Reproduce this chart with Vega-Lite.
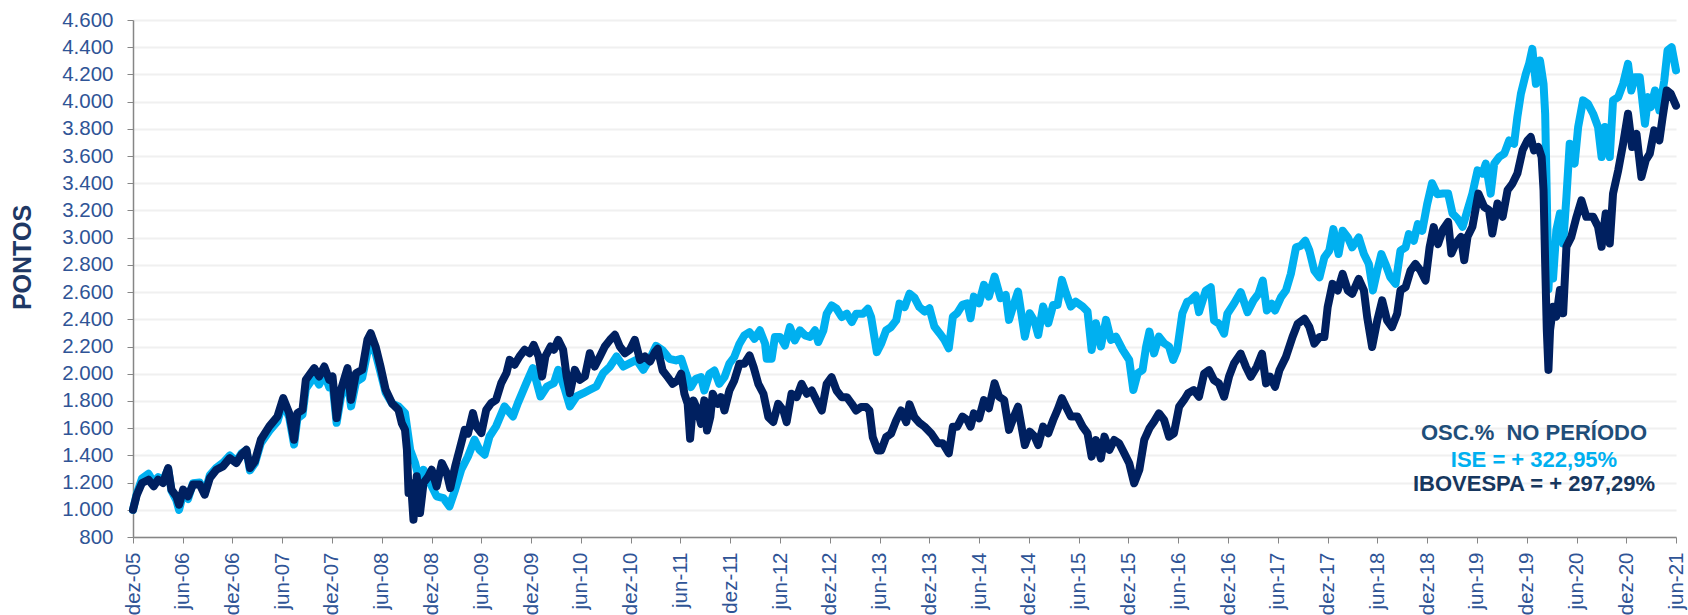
{
  "$schema": "https://vega.github.io/schema/vega-lite/v6.json",
  "width": 1543,
  "height": 517,
  "autosize": {"type": "none"},
  "padding": {"left": 133, "top": 20, "right": 12, "bottom": 78},
  "background": "#ffffff",
  "datasets": {
    "ise": [
      {"d": "2005-12-01", "v": 1000}, {"d": "2005-12-15", "v": 1120}, {"d": "2006-01-03", "v": 1230}, {"d": "2006-01-27", "v": 1265},
      {"d": "2006-02-15", "v": 1200}, {"d": "2006-03-03", "v": 1240}, {"d": "2006-03-21", "v": 1215}, {"d": "2006-04-09", "v": 1300},
      {"d": "2006-04-21", "v": 1140}, {"d": "2006-05-09", "v": 1070}, {"d": "2006-05-19", "v": 1000}, {"d": "2006-06-03", "v": 1120},
      {"d": "2006-06-21", "v": 1080}, {"d": "2006-07-09", "v": 1195}, {"d": "2006-08-03", "v": 1200}, {"d": "2006-08-21", "v": 1120},
      {"d": "2006-09-09", "v": 1255}, {"d": "2006-10-03", "v": 1310}, {"d": "2006-10-27", "v": 1345}, {"d": "2006-11-21", "v": 1400},
      {"d": "2006-12-15", "v": 1355}, {"d": "2007-01-03", "v": 1415}, {"d": "2007-01-21", "v": 1440}, {"d": "2007-02-03", "v": 1290},
      {"d": "2007-02-21", "v": 1340}, {"d": "2007-03-15", "v": 1490}, {"d": "2007-04-15", "v": 1580}, {"d": "2007-05-15", "v": 1650},
      {"d": "2007-06-05", "v": 1790}, {"d": "2007-06-27", "v": 1680}, {"d": "2007-07-15", "v": 1480}, {"d": "2007-07-27", "v": 1670},
      {"d": "2007-08-15", "v": 1700}, {"d": "2007-08-27", "v": 1890}, {"d": "2007-09-27", "v": 1980}, {"d": "2007-10-15", "v": 1920},
      {"d": "2007-11-03", "v": 2000}, {"d": "2007-11-21", "v": 1900}, {"d": "2007-12-03", "v": 1930}, {"d": "2007-12-18", "v": 1640},
      {"d": "2008-01-03", "v": 1830}, {"d": "2008-01-27", "v": 1960}, {"d": "2008-02-09", "v": 1760}, {"d": "2008-02-27", "v": 1940},
      {"d": "2008-03-21", "v": 1970}, {"d": "2008-04-09", "v": 2160}, {"d": "2008-04-21", "v": 2220}, {"d": "2008-05-09", "v": 2150},
      {"d": "2008-05-27", "v": 2010}, {"d": "2008-06-15", "v": 1860}, {"d": "2008-07-09", "v": 1780}, {"d": "2008-08-01", "v": 1760},
      {"d": "2008-08-25", "v": 1711}, {"d": "2008-09-13", "v": 1441}, {"d": "2008-10-01", "v": 1343}, {"d": "2008-10-19", "v": 1197},
      {"d": "2008-11-01", "v": 1294}, {"d": "2008-11-25", "v": 1197}, {"d": "2008-12-19", "v": 1099}, {"d": "2009-01-13", "v": 1086},
      {"d": "2009-02-04", "v": 1025}, {"d": "2009-02-25", "v": 1148}, {"d": "2009-03-19", "v": 1294}, {"d": "2009-04-13", "v": 1392},
      {"d": "2009-05-07", "v": 1515}, {"d": "2009-05-25", "v": 1441}, {"d": "2009-06-13", "v": 1405}, {"d": "2009-07-01", "v": 1539},
      {"d": "2009-07-25", "v": 1613}, {"d": "2009-08-25", "v": 1760}, {"d": "2009-09-25", "v": 1686}, {"d": "2009-10-13", "v": 1784},
      {"d": "2009-11-13", "v": 1931}, {"d": "2009-12-07", "v": 2041}, {"d": "2010-01-04", "v": 1833}, {"d": "2010-01-28", "v": 1906},
      {"d": "2010-02-22", "v": 1931}, {"d": "2010-03-10", "v": 2029}, {"d": "2010-04-04", "v": 1882}, {"d": "2010-04-22", "v": 1760},
      {"d": "2010-05-16", "v": 1833}, {"d": "2010-06-10", "v": 1857}, {"d": "2010-07-04", "v": 1882}, {"d": "2010-07-28", "v": 1906},
      {"d": "2010-08-22", "v": 2004}, {"d": "2010-09-16", "v": 2053}, {"d": "2010-10-10", "v": 2127}, {"d": "2010-11-04", "v": 2053},
      {"d": "2010-11-28", "v": 2078}, {"d": "2010-12-22", "v": 2102}, {"d": "2011-01-16", "v": 2029}, {"d": "2011-02-10", "v": 2110},
      {"d": "2011-03-04", "v": 2205}, {"d": "2011-03-28", "v": 2172}, {"d": "2011-04-22", "v": 2110}, {"d": "2011-05-16", "v": 2098},
      {"d": "2011-06-04", "v": 2110}, {"d": "2011-06-22", "v": 2000}, {"d": "2011-07-10", "v": 1902}, {"d": "2011-07-28", "v": 1963},
      {"d": "2011-08-16", "v": 1975}, {"d": "2011-08-28", "v": 1877}, {"d": "2011-09-16", "v": 2000}, {"d": "2011-10-04", "v": 2024},
      {"d": "2011-10-22", "v": 1926}, {"d": "2011-11-10", "v": 1975}, {"d": "2011-11-28", "v": 2074}, {"d": "2011-12-16", "v": 2123},
      {"d": "2012-01-04", "v": 2221}, {"d": "2012-01-22", "v": 2282}, {"d": "2012-02-10", "v": 2306}, {"d": "2012-02-28", "v": 2257},
      {"d": "2012-03-19", "v": 2319}, {"d": "2012-04-07", "v": 2221}, {"d": "2012-04-13", "v": 2110}, {"d": "2012-05-01", "v": 2110},
      {"d": "2012-05-13", "v": 2270}, {"d": "2012-06-01", "v": 2270}, {"d": "2012-06-19", "v": 2208}, {"d": "2012-07-07", "v": 2343},
      {"d": "2012-07-25", "v": 2245}, {"d": "2012-08-13", "v": 2319}, {"d": "2012-09-01", "v": 2282}, {"d": "2012-09-19", "v": 2270},
      {"d": "2012-10-07", "v": 2319}, {"d": "2012-10-19", "v": 2233}, {"d": "2012-11-07", "v": 2319}, {"d": "2012-11-19", "v": 2441},
      {"d": "2012-12-07", "v": 2502}, {"d": "2012-12-25", "v": 2478}, {"d": "2013-01-13", "v": 2417}, {"d": "2013-02-01", "v": 2441},
      {"d": "2013-02-19", "v": 2380}, {"d": "2013-03-07", "v": 2441}, {"d": "2013-04-01", "v": 2441}, {"d": "2013-04-19", "v": 2478},
      {"d": "2013-05-01", "v": 2417}, {"d": "2013-05-13", "v": 2270}, {"d": "2013-05-22", "v": 2159}, {"d": "2013-06-07", "v": 2221},
      {"d": "2013-06-25", "v": 2319}, {"d": "2013-07-13", "v": 2343}, {"d": "2013-08-01", "v": 2392}, {"d": "2013-08-13", "v": 2515},
      {"d": "2013-09-01", "v": 2490}, {"d": "2013-09-19", "v": 2588}, {"d": "2013-10-07", "v": 2560}, {"d": "2013-10-25", "v": 2490},
      {"d": "2013-11-13", "v": 2457}, {"d": "2013-12-01", "v": 2481}, {"d": "2013-12-19", "v": 2347}, {"d": "2014-01-07", "v": 2298},
      {"d": "2014-01-25", "v": 2249}, {"d": "2014-02-10", "v": 2187}, {"d": "2014-02-25", "v": 2420}, {"d": "2014-03-13", "v": 2445},
      {"d": "2014-04-01", "v": 2506}, {"d": "2014-04-19", "v": 2518}, {"d": "2014-05-01", "v": 2408}, {"d": "2014-05-13", "v": 2567},
      {"d": "2014-06-01", "v": 2518}, {"d": "2014-06-19", "v": 2653}, {"d": "2014-07-07", "v": 2567}, {"d": "2014-07-28", "v": 2714},
      {"d": "2014-08-19", "v": 2555}, {"d": "2014-09-07", "v": 2579}, {"d": "2014-09-19", "v": 2396}, {"d": "2014-10-04", "v": 2494},
      {"d": "2014-10-22", "v": 2604}, {"d": "2014-11-04", "v": 2432}, {"d": "2014-11-16", "v": 2273}, {"d": "2014-12-04", "v": 2445},
      {"d": "2014-12-22", "v": 2383}, {"d": "2015-01-04", "v": 2285}, {"d": "2015-01-22", "v": 2494}, {"d": "2015-02-10", "v": 2371},
      {"d": "2015-02-28", "v": 2506}, {"d": "2015-03-16", "v": 2506}, {"d": "2015-04-01", "v": 2690}, {"d": "2015-04-16", "v": 2592},
      {"d": "2015-05-04", "v": 2494}, {"d": "2015-05-22", "v": 2530}, {"d": "2015-06-16", "v": 2494}, {"d": "2015-07-04", "v": 2457},
      {"d": "2015-07-19", "v": 2175}, {"d": "2015-08-04", "v": 2371}, {"d": "2015-08-22", "v": 2200}, {"d": "2015-09-10", "v": 2396},
      {"d": "2015-09-28", "v": 2249}, {"d": "2015-10-16", "v": 2273}, {"d": "2015-11-10", "v": 2175}, {"d": "2015-12-04", "v": 2101},
      {"d": "2015-12-19", "v": 1881}, {"d": "2016-01-04", "v": 2003}, {"d": "2016-01-22", "v": 2028}, {"d": "2016-02-04", "v": 2200},
      {"d": "2016-02-16", "v": 2310}, {"d": "2016-03-04", "v": 2150}, {"d": "2016-03-22", "v": 2273}, {"d": "2016-04-10", "v": 2224},
      {"d": "2016-04-28", "v": 2200}, {"d": "2016-05-13", "v": 2101}, {"d": "2016-05-28", "v": 2175}, {"d": "2016-06-16", "v": 2445},
      {"d": "2016-07-04", "v": 2530}, {"d": "2016-07-16", "v": 2539}, {"d": "2016-08-04", "v": 2575}, {"d": "2016-08-16", "v": 2453},
      {"d": "2016-09-10", "v": 2612}, {"d": "2016-09-28", "v": 2636}, {"d": "2016-10-10", "v": 2392}, {"d": "2016-10-28", "v": 2368},
      {"d": "2016-11-16", "v": 2295}, {"d": "2016-11-28", "v": 2441}, {"d": "2016-12-22", "v": 2514}, {"d": "2017-01-16", "v": 2600},
      {"d": "2017-02-10", "v": 2453}, {"d": "2017-03-04", "v": 2539}, {"d": "2017-03-22", "v": 2587}, {"d": "2017-04-07", "v": 2685},
      {"d": "2017-04-22", "v": 2465}, {"d": "2017-05-10", "v": 2514}, {"d": "2017-05-22", "v": 2465}, {"d": "2017-06-13", "v": 2563},
      {"d": "2017-07-01", "v": 2612}, {"d": "2017-07-19", "v": 2734}, {"d": "2017-08-07", "v": 2929}, {"d": "2017-08-25", "v": 2941},
      {"d": "2017-09-10", "v": 2978}, {"d": "2017-09-25", "v": 2905}, {"d": "2017-10-13", "v": 2758}, {"d": "2017-11-01", "v": 2709},
      {"d": "2017-11-19", "v": 2856}, {"d": "2017-12-07", "v": 2905}, {"d": "2017-12-22", "v": 3063}, {"d": "2018-01-10", "v": 2880},
      {"d": "2018-01-25", "v": 3051}, {"d": "2018-02-13", "v": 3002}, {"d": "2018-03-01", "v": 2929}, {"d": "2018-03-25", "v": 3002},
      {"d": "2018-04-13", "v": 2880}, {"d": "2018-05-01", "v": 2807}, {"d": "2018-05-16", "v": 2612}, {"d": "2018-06-01", "v": 2758},
      {"d": "2018-06-16", "v": 2880}, {"d": "2018-07-01", "v": 2807}, {"d": "2018-07-19", "v": 2709}, {"d": "2018-08-07", "v": 2661},
      {"d": "2018-08-25", "v": 2905}, {"d": "2018-09-13", "v": 2929}, {"d": "2018-09-25", "v": 3027}, {"d": "2018-10-13", "v": 2978},
      {"d": "2018-10-28", "v": 3100}, {"d": "2018-11-13", "v": 3051}, {"d": "2018-12-01", "v": 3246}, {"d": "2018-12-19", "v": 3400},
      {"d": "2019-01-07", "v": 3320}, {"d": "2019-01-28", "v": 3324}, {"d": "2019-02-16", "v": 3324}, {"d": "2019-03-04", "v": 3178},
      {"d": "2019-03-22", "v": 3141}, {"d": "2019-04-10", "v": 3080}, {"d": "2019-04-28", "v": 3202}, {"d": "2019-05-16", "v": 3324},
      {"d": "2019-06-04", "v": 3495}, {"d": "2019-06-22", "v": 3471}, {"d": "2019-07-04", "v": 3544}, {"d": "2019-07-22", "v": 3324},
      {"d": "2019-08-04", "v": 3544}, {"d": "2019-08-22", "v": 3593}, {"d": "2019-09-10", "v": 3618}, {"d": "2019-09-28", "v": 3715},
      {"d": "2019-10-16", "v": 3691}, {"d": "2019-10-28", "v": 3887}, {"d": "2019-11-10", "v": 4058}, {"d": "2019-11-28", "v": 4204},
      {"d": "2019-12-10", "v": 4278}, {"d": "2019-12-22", "v": 4388}, {"d": "2020-01-04", "v": 4131}, {"d": "2020-01-19", "v": 4302},
      {"d": "2020-02-01", "v": 4131}, {"d": "2020-02-07", "v": 3911}, {"d": "2020-02-13", "v": 3300}, {"d": "2020-02-19", "v": 2620},
      {"d": "2020-02-25", "v": 2850}, {"d": "2020-03-07", "v": 2700}, {"d": "2020-03-19", "v": 3055}, {"d": "2020-04-01", "v": 3178},
      {"d": "2020-04-13", "v": 2957}, {"d": "2020-04-25", "v": 3300}, {"d": "2020-05-07", "v": 3691}, {"d": "2020-05-25", "v": 3544},
      {"d": "2020-06-07", "v": 3813}, {"d": "2020-06-25", "v": 4009}, {"d": "2020-07-13", "v": 3984}, {"d": "2020-08-01", "v": 3911},
      {"d": "2020-08-19", "v": 3813}, {"d": "2020-09-01", "v": 3593}, {"d": "2020-09-13", "v": 3813}, {"d": "2020-10-01", "v": 3593},
      {"d": "2020-10-13", "v": 4009}, {"d": "2020-11-01", "v": 4033}, {"d": "2020-11-19", "v": 4131}, {"d": "2020-12-07", "v": 4278},
      {"d": "2020-12-19", "v": 4082}, {"d": "2021-01-01", "v": 4180}, {"d": "2021-01-19", "v": 4180}, {"d": "2021-02-07", "v": 3838},
      {"d": "2021-02-19", "v": 4033}, {"d": "2021-03-01", "v": 3960}, {"d": "2021-03-16", "v": 4082}, {"d": "2021-04-01", "v": 3935},
      {"d": "2021-04-19", "v": 4155}, {"d": "2021-05-01", "v": 4376}, {"d": "2021-05-16", "v": 4400}, {"d": "2021-06-01", "v": 4230}
    ],
    "ibov": [
      {"d": "2005-12-01", "v": 1000}, {"d": "2005-12-15", "v": 1110}, {"d": "2006-01-03", "v": 1197}, {"d": "2006-01-27", "v": 1221},
      {"d": "2006-02-15", "v": 1172}, {"d": "2006-03-03", "v": 1221}, {"d": "2006-03-21", "v": 1197}, {"d": "2006-04-09", "v": 1307},
      {"d": "2006-04-21", "v": 1148}, {"d": "2006-05-09", "v": 1099}, {"d": "2006-05-19", "v": 1037}, {"d": "2006-06-03", "v": 1148},
      {"d": "2006-06-21", "v": 1099}, {"d": "2006-07-09", "v": 1185}, {"d": "2006-08-03", "v": 1185}, {"d": "2006-08-21", "v": 1111},
      {"d": "2006-09-09", "v": 1233}, {"d": "2006-10-03", "v": 1294}, {"d": "2006-10-27", "v": 1319}, {"d": "2006-11-21", "v": 1380},
      {"d": "2006-12-15", "v": 1343}, {"d": "2007-01-03", "v": 1405}, {"d": "2007-01-21", "v": 1441}, {"d": "2007-02-03", "v": 1307},
      {"d": "2007-02-21", "v": 1356}, {"d": "2007-03-15", "v": 1515}, {"d": "2007-04-15", "v": 1613}, {"d": "2007-05-15", "v": 1686},
      {"d": "2007-06-05", "v": 1821}, {"d": "2007-06-27", "v": 1711}, {"d": "2007-07-15", "v": 1515}, {"d": "2007-07-27", "v": 1711},
      {"d": "2007-08-15", "v": 1735}, {"d": "2007-08-27", "v": 1955}, {"d": "2007-09-27", "v": 2041}, {"d": "2007-10-15", "v": 1980},
      {"d": "2007-11-03", "v": 2053}, {"d": "2007-11-21", "v": 1955}, {"d": "2007-12-03", "v": 1980}, {"d": "2007-12-18", "v": 1674},
      {"d": "2008-01-03", "v": 1882}, {"d": "2008-01-27", "v": 2041}, {"d": "2008-02-09", "v": 1808}, {"d": "2008-02-27", "v": 2004},
      {"d": "2008-03-21", "v": 2029}, {"d": "2008-04-09", "v": 2249}, {"d": "2008-04-21", "v": 2298}, {"d": "2008-05-09", "v": 2200},
      {"d": "2008-05-27", "v": 2053}, {"d": "2008-06-15", "v": 1882}, {"d": "2008-07-09", "v": 1780}, {"d": "2008-08-01", "v": 1735},
      {"d": "2008-08-13", "v": 1637}, {"d": "2008-08-25", "v": 1588}, {"d": "2008-09-01", "v": 1441}, {"d": "2008-09-07", "v": 1123},
      {"d": "2008-09-16", "v": 1197}, {"d": "2008-09-25", "v": 927}, {"d": "2008-10-07", "v": 1246}, {"d": "2008-10-19", "v": 976},
      {"d": "2008-11-01", "v": 1197}, {"d": "2008-11-19", "v": 1246}, {"d": "2008-12-01", "v": 1294}, {"d": "2008-12-19", "v": 1172},
      {"d": "2009-01-07", "v": 1343}, {"d": "2009-01-25", "v": 1270}, {"d": "2009-02-07", "v": 1160}, {"d": "2009-02-25", "v": 1319},
      {"d": "2009-03-13", "v": 1441}, {"d": "2009-04-01", "v": 1588}, {"d": "2009-04-13", "v": 1560}, {"d": "2009-05-01", "v": 1711},
      {"d": "2009-05-13", "v": 1613}, {"d": "2009-06-01", "v": 1564}, {"d": "2009-06-19", "v": 1735}, {"d": "2009-07-07", "v": 1784},
      {"d": "2009-07-25", "v": 1808}, {"d": "2009-08-13", "v": 1931}, {"d": "2009-09-01", "v": 2004}, {"d": "2009-09-13", "v": 2102},
      {"d": "2009-10-01", "v": 2066}, {"d": "2009-10-19", "v": 2127}, {"d": "2009-11-07", "v": 2176}, {"d": "2009-11-25", "v": 2151},
      {"d": "2009-12-10", "v": 2212}, {"d": "2009-12-28", "v": 2127}, {"d": "2010-01-10", "v": 1980}, {"d": "2010-01-22", "v": 2127},
      {"d": "2010-02-10", "v": 2200}, {"d": "2010-02-22", "v": 2176}, {"d": "2010-03-10", "v": 2249}, {"d": "2010-03-28", "v": 2176},
      {"d": "2010-04-10", "v": 1980}, {"d": "2010-04-22", "v": 1857}, {"d": "2010-05-10", "v": 2029}, {"d": "2010-05-28", "v": 1955},
      {"d": "2010-06-16", "v": 1980}, {"d": "2010-07-04", "v": 2151}, {"d": "2010-07-22", "v": 2053}, {"d": "2010-08-10", "v": 2127},
      {"d": "2010-08-28", "v": 2200}, {"d": "2010-09-16", "v": 2249}, {"d": "2010-10-04", "v": 2286}, {"d": "2010-10-22", "v": 2200},
      {"d": "2010-11-10", "v": 2151}, {"d": "2010-11-28", "v": 2176}, {"d": "2010-12-16", "v": 2249}, {"d": "2011-01-04", "v": 2102},
      {"d": "2011-01-22", "v": 2127}, {"d": "2011-02-10", "v": 2090}, {"d": "2011-02-28", "v": 2160}, {"d": "2011-03-10", "v": 2184},
      {"d": "2011-03-28", "v": 2024}, {"d": "2011-04-16", "v": 1975}, {"d": "2011-05-04", "v": 1926}, {"d": "2011-05-22", "v": 1951},
      {"d": "2011-06-04", "v": 2000}, {"d": "2011-06-16", "v": 1853}, {"d": "2011-06-28", "v": 1779}, {"d": "2011-07-07", "v": 1522},
      {"d": "2011-07-19", "v": 1804}, {"d": "2011-08-04", "v": 1730}, {"d": "2011-08-16", "v": 1632}, {"d": "2011-08-28", "v": 1804},
      {"d": "2011-09-07", "v": 1583}, {"d": "2011-09-19", "v": 1681}, {"d": "2011-09-28", "v": 1853}, {"d": "2011-10-16", "v": 1779},
      {"d": "2011-10-28", "v": 1828}, {"d": "2011-11-10", "v": 1730}, {"d": "2011-11-28", "v": 1877}, {"d": "2011-12-16", "v": 1951},
      {"d": "2012-01-04", "v": 2074}, {"d": "2012-01-22", "v": 2074}, {"d": "2012-02-10", "v": 2135}, {"d": "2012-02-25", "v": 2049},
      {"d": "2012-03-13", "v": 1926}, {"d": "2012-04-01", "v": 1853}, {"d": "2012-04-19", "v": 1681}, {"d": "2012-05-07", "v": 1645},
      {"d": "2012-05-25", "v": 1779}, {"d": "2012-06-13", "v": 1730}, {"d": "2012-06-25", "v": 1645}, {"d": "2012-07-13", "v": 1853},
      {"d": "2012-08-01", "v": 1828}, {"d": "2012-08-19", "v": 1926}, {"d": "2012-09-07", "v": 1853}, {"d": "2012-09-25", "v": 1877},
      {"d": "2012-10-13", "v": 1804}, {"d": "2012-11-01", "v": 1730}, {"d": "2012-11-19", "v": 1926}, {"d": "2012-12-07", "v": 1975},
      {"d": "2012-12-25", "v": 1877}, {"d": "2013-01-13", "v": 1828}, {"d": "2013-02-01", "v": 1828}, {"d": "2013-02-19", "v": 1779},
      {"d": "2013-03-07", "v": 1730}, {"d": "2013-03-25", "v": 1755}, {"d": "2013-04-13", "v": 1755}, {"d": "2013-04-25", "v": 1730},
      {"d": "2013-05-07", "v": 1534}, {"d": "2013-05-25", "v": 1436}, {"d": "2013-06-07", "v": 1436}, {"d": "2013-06-25", "v": 1534},
      {"d": "2013-07-13", "v": 1559}, {"d": "2013-08-01", "v": 1657}, {"d": "2013-08-19", "v": 1730}, {"d": "2013-09-07", "v": 1645},
      {"d": "2013-09-19", "v": 1775}, {"d": "2013-10-07", "v": 1680}, {"d": "2013-10-25", "v": 1640}, {"d": "2013-11-13", "v": 1611},
      {"d": "2013-12-07", "v": 1562}, {"d": "2014-01-01", "v": 1489}, {"d": "2014-01-19", "v": 1489}, {"d": "2014-02-10", "v": 1415},
      {"d": "2014-02-25", "v": 1611}, {"d": "2014-03-13", "v": 1611}, {"d": "2014-04-01", "v": 1685}, {"d": "2014-04-19", "v": 1660},
      {"d": "2014-05-01", "v": 1611}, {"d": "2014-05-13", "v": 1709}, {"d": "2014-06-01", "v": 1672}, {"d": "2014-06-19", "v": 1807},
      {"d": "2014-07-07", "v": 1746}, {"d": "2014-07-28", "v": 1930}, {"d": "2014-08-13", "v": 1832}, {"d": "2014-09-01", "v": 1807},
      {"d": "2014-09-19", "v": 1587}, {"d": "2014-10-07", "v": 1685}, {"d": "2014-10-22", "v": 1758}, {"d": "2014-11-04", "v": 1611},
      {"d": "2014-11-16", "v": 1476}, {"d": "2014-12-04", "v": 1574}, {"d": "2014-12-22", "v": 1538}, {"d": "2015-01-04", "v": 1476},
      {"d": "2015-01-22", "v": 1611}, {"d": "2015-02-10", "v": 1562}, {"d": "2015-02-28", "v": 1660}, {"d": "2015-03-16", "v": 1734},
      {"d": "2015-04-01", "v": 1820}, {"d": "2015-04-16", "v": 1758}, {"d": "2015-05-04", "v": 1685}, {"d": "2015-05-28", "v": 1685},
      {"d": "2015-06-16", "v": 1611}, {"d": "2015-07-04", "v": 1562}, {"d": "2015-07-19", "v": 1391}, {"d": "2015-08-04", "v": 1513},
      {"d": "2015-08-22", "v": 1378}, {"d": "2015-09-04", "v": 1538}, {"d": "2015-09-22", "v": 1440}, {"d": "2015-10-10", "v": 1513},
      {"d": "2015-10-28", "v": 1489}, {"d": "2015-11-16", "v": 1415}, {"d": "2015-12-04", "v": 1342}, {"d": "2015-12-22", "v": 1195},
      {"d": "2016-01-10", "v": 1293}, {"d": "2016-01-28", "v": 1513}, {"d": "2016-02-16", "v": 1599}, {"d": "2016-03-04", "v": 1648},
      {"d": "2016-03-22", "v": 1709}, {"d": "2016-04-10", "v": 1660}, {"d": "2016-04-28", "v": 1538}, {"d": "2016-05-16", "v": 1562},
      {"d": "2016-06-04", "v": 1758}, {"d": "2016-06-22", "v": 1807}, {"d": "2016-07-07", "v": 1856}, {"d": "2016-07-28", "v": 1880},
      {"d": "2016-08-16", "v": 1831}, {"d": "2016-09-04", "v": 2002}, {"d": "2016-09-22", "v": 2026}, {"d": "2016-10-10", "v": 1953},
      {"d": "2016-10-28", "v": 1929}, {"d": "2016-11-16", "v": 1831}, {"d": "2016-12-04", "v": 1978}, {"d": "2016-12-22", "v": 2075},
      {"d": "2017-01-16", "v": 2148}, {"d": "2017-02-04", "v": 2051}, {"d": "2017-02-22", "v": 1978}, {"d": "2017-03-16", "v": 2051},
      {"d": "2017-04-04", "v": 2148}, {"d": "2017-04-19", "v": 1929}, {"d": "2017-05-04", "v": 1978}, {"d": "2017-05-22", "v": 1904},
      {"d": "2017-06-07", "v": 2026}, {"d": "2017-07-01", "v": 2124}, {"d": "2017-07-25", "v": 2270}, {"d": "2017-08-13", "v": 2368},
      {"d": "2017-09-07", "v": 2404}, {"d": "2017-09-25", "v": 2343}, {"d": "2017-10-13", "v": 2221}, {"d": "2017-11-01", "v": 2270},
      {"d": "2017-11-19", "v": 2270}, {"d": "2017-12-01", "v": 2490}, {"d": "2017-12-19", "v": 2661}, {"d": "2018-01-07", "v": 2612},
      {"d": "2018-01-25", "v": 2734}, {"d": "2018-02-13", "v": 2612}, {"d": "2018-03-01", "v": 2587}, {"d": "2018-03-25", "v": 2697},
      {"d": "2018-04-13", "v": 2612}, {"d": "2018-04-25", "v": 2417}, {"d": "2018-05-13", "v": 2197}, {"d": "2018-06-01", "v": 2392},
      {"d": "2018-06-19", "v": 2539}, {"d": "2018-07-07", "v": 2392}, {"d": "2018-07-25", "v": 2343}, {"d": "2018-08-13", "v": 2441},
      {"d": "2018-08-25", "v": 2612}, {"d": "2018-09-13", "v": 2636}, {"d": "2018-10-01", "v": 2758}, {"d": "2018-10-19", "v": 2807},
      {"d": "2018-11-07", "v": 2758}, {"d": "2018-11-25", "v": 2685}, {"d": "2018-12-10", "v": 2930}, {"d": "2018-12-25", "v": 3078},
      {"d": "2019-01-10", "v": 2953}, {"d": "2019-01-28", "v": 3060}, {"d": "2019-02-16", "v": 3116}, {"d": "2019-02-28", "v": 2884},
      {"d": "2019-03-16", "v": 2957}, {"d": "2019-04-04", "v": 3006}, {"d": "2019-04-16", "v": 2835}, {"d": "2019-04-28", "v": 3006},
      {"d": "2019-05-16", "v": 3080}, {"d": "2019-06-07", "v": 3324}, {"d": "2019-06-28", "v": 3226}, {"d": "2019-07-16", "v": 3202},
      {"d": "2019-07-28", "v": 3031}, {"d": "2019-08-16", "v": 3251}, {"d": "2019-09-04", "v": 3153}, {"d": "2019-09-22", "v": 3349},
      {"d": "2019-10-10", "v": 3398}, {"d": "2019-10-28", "v": 3471}, {"d": "2019-11-16", "v": 3642}, {"d": "2019-12-04", "v": 3715},
      {"d": "2019-12-16", "v": 3740}, {"d": "2019-12-28", "v": 3642}, {"d": "2020-01-13", "v": 3666}, {"d": "2020-01-25", "v": 3593},
      {"d": "2020-02-01", "v": 3349}, {"d": "2020-02-07", "v": 2811}, {"d": "2020-02-13", "v": 2322}, {"d": "2020-02-19", "v": 2028},
      {"d": "2020-02-25", "v": 2322}, {"d": "2020-03-07", "v": 2493}, {"d": "2020-03-19", "v": 2420}, {"d": "2020-04-01", "v": 2615},
      {"d": "2020-04-13", "v": 2444}, {"d": "2020-04-25", "v": 2933}, {"d": "2020-05-13", "v": 3006}, {"d": "2020-06-01", "v": 3153},
      {"d": "2020-06-19", "v": 3275}, {"d": "2020-07-07", "v": 3153}, {"d": "2020-08-01", "v": 3153}, {"d": "2020-08-19", "v": 3080},
      {"d": "2020-09-01", "v": 2933}, {"d": "2020-09-16", "v": 3178}, {"d": "2020-10-01", "v": 2957}, {"d": "2020-10-13", "v": 3324},
      {"d": "2020-11-01", "v": 3495}, {"d": "2020-11-19", "v": 3691}, {"d": "2020-12-07", "v": 3911}, {"d": "2020-12-22", "v": 3666},
      {"d": "2021-01-07", "v": 3764}, {"d": "2021-01-25", "v": 3446}, {"d": "2021-02-10", "v": 3569}, {"d": "2021-02-25", "v": 3618},
      {"d": "2021-03-13", "v": 3789}, {"d": "2021-04-01", "v": 3715}, {"d": "2021-04-13", "v": 3887}, {"d": "2021-04-28", "v": 4082},
      {"d": "2021-05-13", "v": 4058}, {"d": "2021-06-01", "v": 3970}
    ],
    "notes": [
      {"d": "2019-12-28", "v": 1565, "t": "OSC.%\u00a0 NO PERÍODO", "k": "titulo"},
      {"d": "2019-12-28", "v": 1366, "t": "ISE = + 322,95%", "k": "ise"},
      {"d": "2019-12-28", "v": 1190, "t": "IBOVESPA = + 297,29%", "k": "ibov"}
    ]
  },
  "encoding": {
    "x": {
      "field": "d",
      "type": "temporal",
      "scale": {
        "type": "utc",
        "domain": [{"year": 2005, "month": 12, "date": 1, "utc": true}, {"year": 2021, "month": 6, "date": 1, "utc": true}]
      },
      "axis": {
        "title": null,
        "grid": false,
        "values": [
          {"year": 2005, "month": 12, "date": 1, "utc": true}, {"year": 2006, "month": 6, "date": 1, "utc": true},
          {"year": 2006, "month": 12, "date": 1, "utc": true}, {"year": 2007, "month": 6, "date": 1, "utc": true},
          {"year": 2007, "month": 12, "date": 1, "utc": true}, {"year": 2008, "month": 6, "date": 1, "utc": true},
          {"year": 2008, "month": 12, "date": 1, "utc": true}, {"year": 2009, "month": 6, "date": 1, "utc": true},
          {"year": 2009, "month": 12, "date": 1, "utc": true}, {"year": 2010, "month": 6, "date": 1, "utc": true},
          {"year": 2010, "month": 12, "date": 1, "utc": true}, {"year": 2011, "month": 6, "date": 1, "utc": true},
          {"year": 2011, "month": 12, "date": 1, "utc": true}, {"year": 2012, "month": 6, "date": 1, "utc": true},
          {"year": 2012, "month": 12, "date": 1, "utc": true}, {"year": 2013, "month": 6, "date": 1, "utc": true},
          {"year": 2013, "month": 12, "date": 1, "utc": true}, {"year": 2014, "month": 6, "date": 1, "utc": true},
          {"year": 2014, "month": 12, "date": 1, "utc": true}, {"year": 2015, "month": 6, "date": 1, "utc": true},
          {"year": 2015, "month": 12, "date": 1, "utc": true}, {"year": 2016, "month": 6, "date": 1, "utc": true},
          {"year": 2016, "month": 12, "date": 1, "utc": true}, {"year": 2017, "month": 6, "date": 1, "utc": true},
          {"year": 2017, "month": 12, "date": 1, "utc": true}, {"year": 2018, "month": 6, "date": 1, "utc": true},
          {"year": 2018, "month": 12, "date": 1, "utc": true}, {"year": 2019, "month": 6, "date": 1, "utc": true},
          {"year": 2019, "month": 12, "date": 1, "utc": true}, {"year": 2020, "month": 6, "date": 1, "utc": true},
          {"year": 2020, "month": 12, "date": 1, "utc": true}, {"year": 2021, "month": 6, "date": 1, "utc": true}
        ],
        "labelExpr": "(utcmonth(datum.value) == 11 ? 'dez' : 'jun') + '-' + utcFormat(datum.value, '%y')",
        "labelAngle": -90,
        "labelAlign": "right",
        "labelBaseline": "middle",
        "labelFont": "Liberation Sans",
        "labelFontSize": 20.5,
        "labelColor": "#2F5496",
        "labelPadding": 9,
        "labelOverlap": false,
        "labelBound": false,
        "labelFlush": false,
        "tickSize": 6,
        "tickColor": "#868686",
        "domainColor": "#868686",
        "domainWidth": 1.5
      }
    },
    "y": {
      "field": "v",
      "type": "quantitative",
      "scale": {"domain": [800, 4600], "nice": false, "zero": false},
      "axis": {
        "title": "PONTOS",
        "titleFont": "Liberation Sans",
        "titleFontSize": 25,
        "titleFontWeight": "bold",
        "titleColor": "#1F3864",
        "titleX": -111,
        "titleY": 237,
        "titleAngle": 270,
        "titleAlign": "center",
        "titleBaseline": "middle",
        "values": [800, 1000, 1200, 1400, 1600, 1800, 2000, 2200, 2400, 2600, 2800, 3000, 3200, 3400, 3600, 3800, 4000, 4200, 4400, 4600],
        "labelExpr": "replace(format(datum.value, ','), ',', '.')",
        "labelFont": "Liberation Sans",
        "labelFontSize": 20.5,
        "labelColor": "#2F5496",
        "labelPadding": 14,
        "tickSize": 6,
        "tickColor": "#868686",
        "domainColor": "#868686",
        "domainWidth": 1.5,
        "grid": true,
        "gridColor": "#F0F0F0",
        "gridWidth": 2
      }
    }
  },
  "layer": [
    {
      "data": {"name": "ise"},
      "mark": {"type": "line", "color": "#00B0F0", "strokeWidth": 8, "strokeCap": "round", "strokeJoin": "round"}
    },
    {
      "data": {"name": "ibov"},
      "mark": {"type": "line", "color": "#002060", "strokeWidth": 8, "strokeCap": "round", "strokeJoin": "round"}
    },
    {
      "data": {"name": "notes"},
      "mark": {"type": "text", "font": "Liberation Sans", "fontSize": 22, "fontWeight": "bold", "align": "center", "baseline": "middle"},
      "encoding": {
        "text": {"field": "t", "type": "nominal"},
        "color": {
          "field": "k",
          "type": "nominal",
          "scale": {"domain": ["titulo", "ise", "ibov"], "range": ["#1F4E79", "#00B0F0", "#17375E"]},
          "legend": null
        }
      }
    }
  ],
  "config": {
    "view": {"stroke": null}
  }
}
